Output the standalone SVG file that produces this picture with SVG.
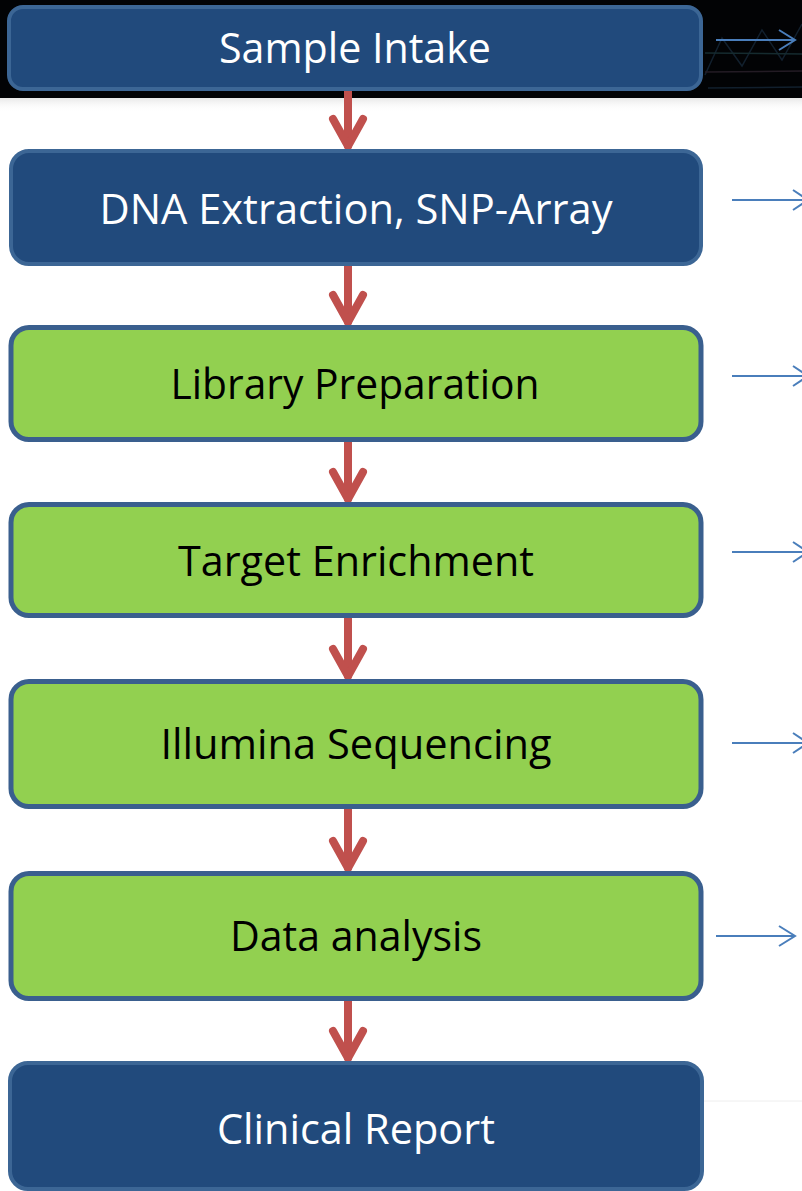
<svg xmlns="http://www.w3.org/2000/svg" width="802" height="1191" viewBox="0 0 802 1191">
  <defs>
    <style>
      .dark rect { fill: #214a7c; stroke: #3c6695; stroke-width: 4; }
      .green rect { fill: #92d050; stroke: #3a5f8e; stroke-width: 5; }
      .dark text { fill: #ffffff; }
      .green text { fill: #000000; }
      text { font-family: "Open Sans", "Liberation Sans", sans-serif; font-size: 42px; text-anchor: middle; }
      .flow line, .flow polyline { stroke: #c0504d; stroke-width: 8; fill: none; stroke-linecap: round; stroke-linejoin: round; }
      .side line, .side polyline { stroke: #4a7ebb; stroke-width: 2; fill: none; }
    </style>
    <linearGradient id="fade" x1="0" y1="0" x2="0" y2="1">
      <stop offset="0" stop-color="#d8d8d8" stop-opacity="0.6"/>
      <stop offset="1" stop-color="#ffffff" stop-opacity="0"/>
    </linearGradient>
  </defs>

  <!-- page -->
  <rect x="0" y="0" width="802" height="1191" fill="#ffffff"/>

  <!-- header band with faint chart texture -->
  <rect x="0" y="0" width="802" height="98" fill="#020305"/>
  <g stroke="#1c3348" stroke-width="1.5" fill="none" opacity="0.6">
    <polyline points="705,75 722,38 742,66 762,30 782,60 802,24"/>
    <line x1="705" y1="53" x2="802" y2="54" stroke="#23464c"/>
    <line x1="705" y1="72" x2="802" y2="71" stroke="#3a2c3a"/>
    <line x1="708" y1="88" x2="802" y2="87"/>
  </g>
  <rect x="0" y="98" width="802" height="14" fill="url(#fade)"/>
  <line x1="702" y1="1101" x2="802" y2="1101" stroke="#eeeeee" stroke-width="1"/>

  <!-- side arrows -->
  <g id="side-arrows" class="side">
    <line x1="716" y1="40" x2="795" y2="40"/>
    <polyline points="779,30 795,40 779,50"/>
    <line x1="732" y1="200" x2="808" y2="200"/>
    <polyline points="793,190 808,200 793,210"/>
    <line x1="732" y1="376" x2="808" y2="376"/>
    <polyline points="793,366 808,376 793,386"/>
    <line x1="732" y1="552" x2="808" y2="552"/>
    <polyline points="793,542 808,552 793,562"/>
    <line x1="732" y1="743" x2="808" y2="743"/>
    <polyline points="793,733 808,743 793,753"/>
    <line x1="716" y1="936" x2="795" y2="936"/>
    <polyline points="779,926 795,936 779,946"/>
  </g>

  <!-- flow connectors -->
  <g id="connectors" class="flow">
    <line x1="348" y1="90" x2="348" y2="146"/>
    <polyline points="333,119 348,146 363,119"/>
    <line x1="348" y1="266" x2="348" y2="322"/>
    <polyline points="333,295 348,322 363,295"/>
    <line x1="348" y1="442" x2="348" y2="499"/>
    <polyline points="333,472 348,499 363,472"/>
    <line x1="348" y1="618" x2="348" y2="676"/>
    <polyline points="333,649 348,676 363,649"/>
    <line x1="348" y1="809" x2="348" y2="868"/>
    <polyline points="333,841 348,868 363,841"/>
    <line x1="348" y1="1001" x2="348" y2="1058"/>
    <polyline points="333,1031 348,1058 363,1031"/>
  </g>

  <g id="sample-intake" class="dark">
    <rect x="9" y="7" width="692" height="82" rx="14"/>
    <text x="355" y="63" textLength="272" lengthAdjust="spacingAndGlyphs">Sample Intake</text>
  </g>

  <g id="dna-extraction" class="dark">
    <rect x="11" y="151" width="690" height="113" rx="18"/>
    <text x="356" y="224" textLength="513" lengthAdjust="spacingAndGlyphs">DNA Extraction, SNP-Array</text>
  </g>

  <g id="library-preparation" class="green">
    <rect x="11" y="327.5" width="690" height="112" rx="18"/>
    <text x="355" y="399" textLength="369" lengthAdjust="spacingAndGlyphs">Library Preparation</text>
  </g>

  <g id="target-enrichment" class="green">
    <rect x="11" y="504.5" width="690" height="111" rx="18"/>
    <text x="356" y="576" textLength="356" lengthAdjust="spacingAndGlyphs">Target Enrichment</text>
  </g>

  <g id="illumina-sequencing" class="green">
    <rect x="11" y="681.5" width="690" height="125" rx="18"/>
    <text x="356" y="759" textLength="391" lengthAdjust="spacingAndGlyphs">Illumina Sequencing</text>
  </g>

  <g id="data-analysis" class="green">
    <rect x="11" y="873.5" width="690" height="125" rx="18"/>
    <text x="356" y="951" textLength="252" lengthAdjust="spacingAndGlyphs">Data analysis</text>
  </g>

  <g id="clinical-report" class="dark">
    <rect x="10" y="1063" width="692" height="126" rx="18"/>
    <text x="356" y="1144" textLength="278" lengthAdjust="spacingAndGlyphs">Clinical Report</text>
  </g>
</svg>
